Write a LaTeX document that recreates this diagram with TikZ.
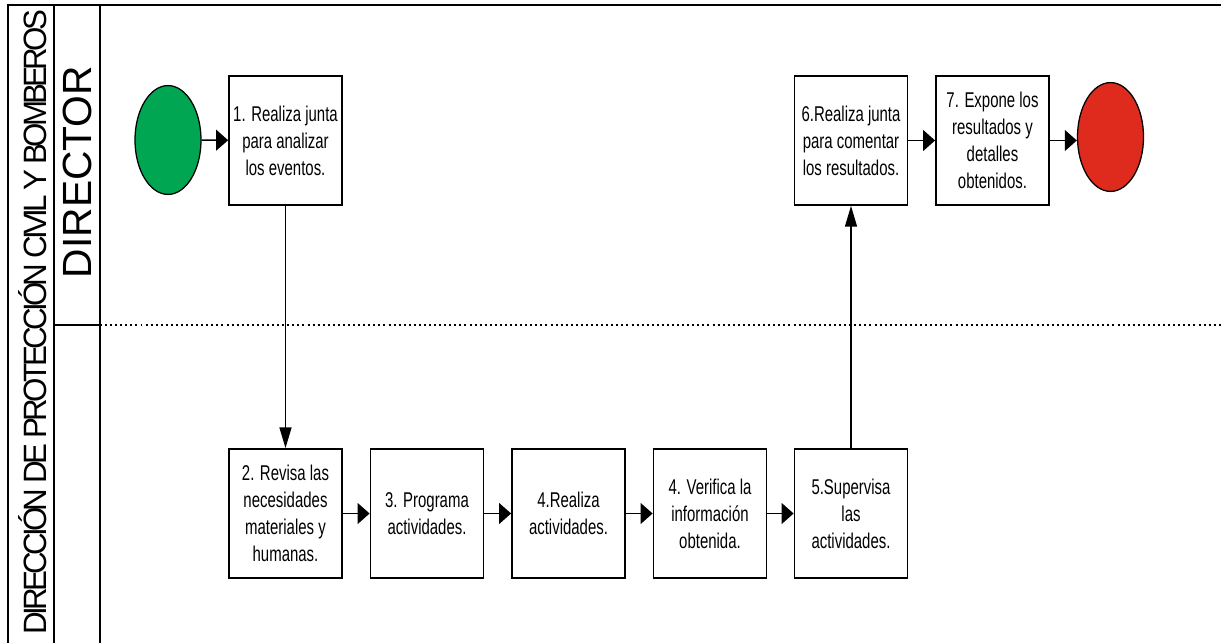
\documentclass[tikz,border=0pt]{standalone}
\usepackage{fontspec}
\setmainfont{Liberation Sans}
\newfontfamily\narrowfont[FakeStretch=0.7]{Liberation Sans}
\newfontfamily\lanefont[LetterSpace=-12]{Liberation Sans}
\usetikzlibrary{arrows.meta,shapes.geometric}
\definecolor{verdeinicio}{RGB}{0,166,81}
\definecolor{rojofin}{RGB}{222,43,30}
\begin{document}
\begin{tikzpicture}[x=0.025cm,y=-0.025cm,
    paso/.style={draw,line width=1.1pt,minimum width=2.83cm,minimum height=3.23cm,
      inner sep=0pt,align=center,font=\narrowfont\fontsize{15.2}{19.2}\selectfont},
    evento/.style={ellipse,draw,line width=0.9pt,inner sep=0pt,
      minimum width=1.65cm,minimum height=2.72cm},
    flecha/.style={line width=1.1pt,-{Triangle[length=0.3cm,width=0.52cm]}},
    flechav/.style={line width=1.1pt,-{Triangle[length=0.52cm,width=0.3cm]}},
    carril/.style={line width=1.2pt}]
  \useasboundingbox (0,0) rectangle (1221,643);

  % carriles
  \draw[carril] (8,643) -- (8,5) -- (1221,5);
  \draw[carril] (54,5) -- (54,643);
  \draw[carril] (100,5) -- (100,643);
  \draw[carril] (54,325) -- (100,325);
  \draw[line width=1.4pt,dash pattern=on 1.4pt off 2.2pt] (100,325) -- (1221,325);

  \node[rotate=90] (dependencia) at (33,322)
    {\resizebox{15.6cm}{0.7cm}{\lanefont DIRECCIÓN DE PROTECCIÓN CIVIL Y BOMBEROS}};
  \node[rotate=90,font=\fontsize{29}{32}\selectfont] (director) at (77,172) {DIRECTOR};

  % director
  \node[evento,fill=verdeinicio] (inicio) at (168,140) {};
  \node[paso] (paso1) at (285.5,140.5) {1. Realiza junta\\para analizar\\los eventos.};
  \node[paso] (paso6) at (851,140.5) {6.Realiza junta\\para comentar\\los resultados.};
  \node[paso] (paso7) at (992.5,140.5) {7. Expone los\\resultados y\\detalles\\obtenidos.};
  \node[evento,fill=rojofin] (fin) at (1110.5,137) {};

  % personal
  \node[paso] (paso2) at (285.5,513.5) {2. Revisa las\\necesidades\\materiales y\\humanas.};
  \node[paso] (paso3) at (427,513.5) {3. Programa\\actividades.};
  \node[paso] (paso4) at (568.5,513.5) {4.Realiza\\actividades.};
  \node[paso] (verifica) at (710,513.5) {4. Verifica la\\información\\obtenida.};
  \node[paso] (paso5) at (851,513.5) {5.Supervisa\\las\\actividades.};

  \draw[flecha] (inicio) -- (paso1);
  \draw[flechav] (paso1) -- (paso2);
  \draw[flecha] (paso2) -- (paso3);
  \draw[flecha] (paso3) -- (paso4);
  \draw[flecha] (paso4) -- (verifica);
  \draw[flecha] (verifica) -- (paso5);
  \draw[flechav] (paso5) -- (paso6);
  \draw[flecha] (paso6) -- (paso7);
  \draw[flecha] (paso7.east) -- (paso7.east -| fin.west);
\end{tikzpicture}
\end{document}
